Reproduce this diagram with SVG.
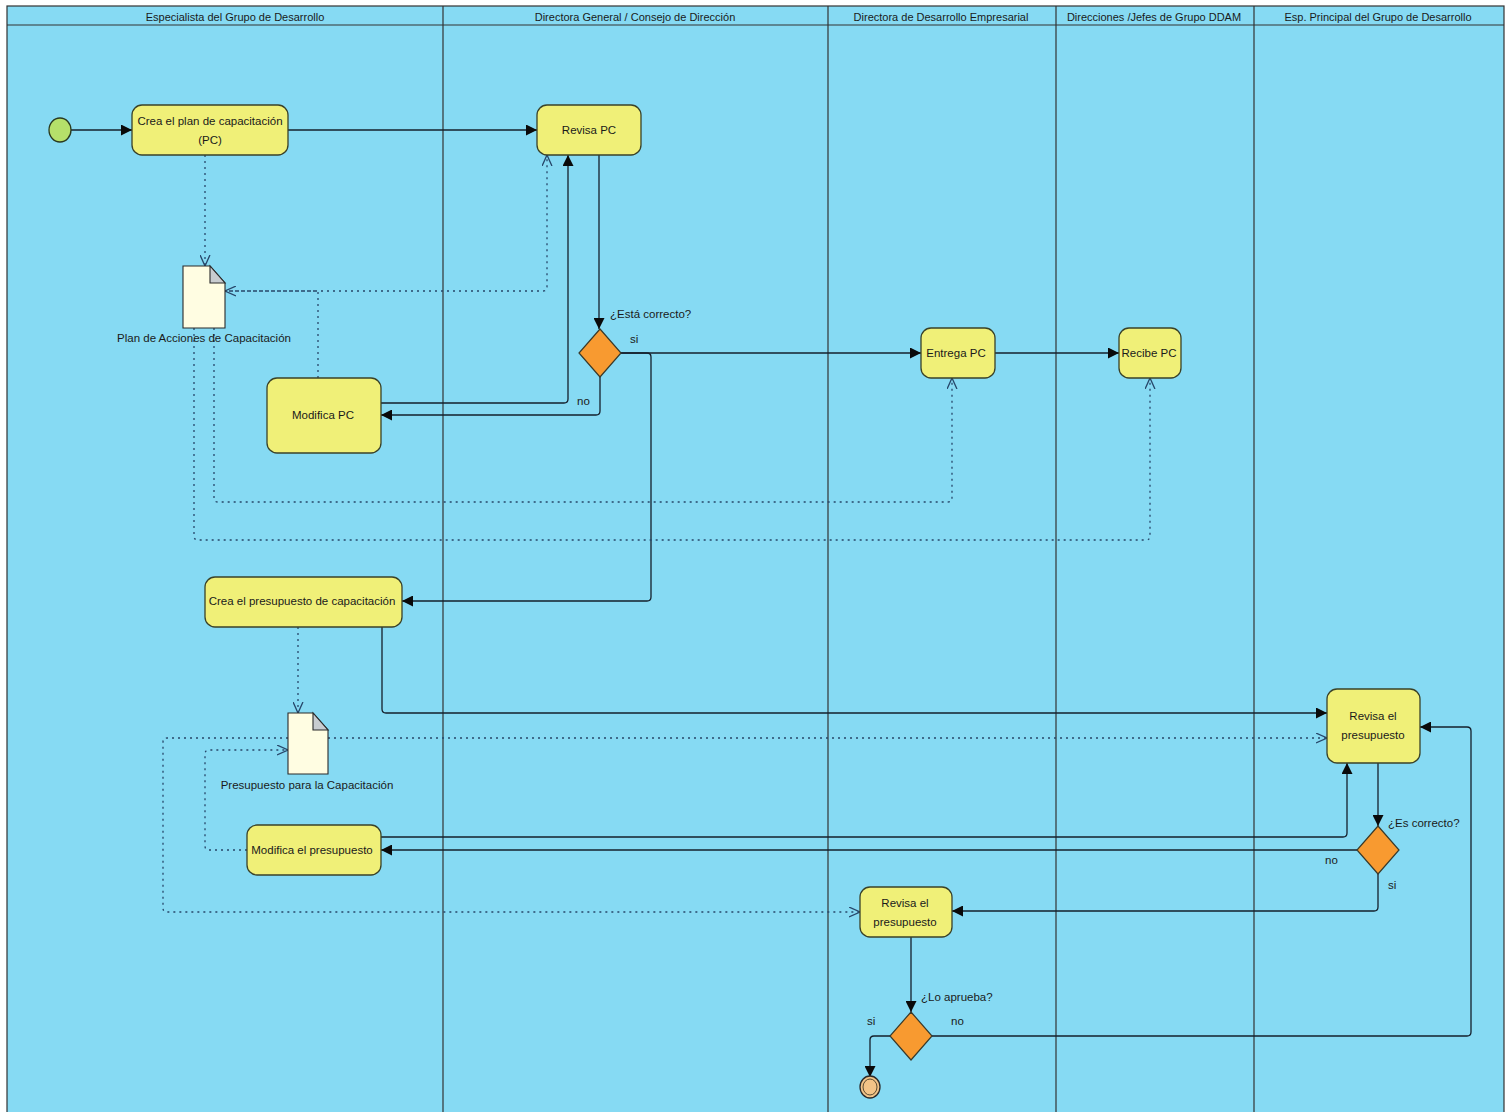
<svg xmlns="http://www.w3.org/2000/svg" width="1507" height="1112" viewBox="0 0 1507 1112">
<style>
text{font-family:"Liberation Sans",Arial,sans-serif;font-size:11.5px;fill:#1a1a1a}
.hd{font-size:11px;text-anchor:middle}
.lbl{text-anchor:middle}
.act{fill:#F0F078;stroke:#3a4228;stroke-width:1.3}
.dec{fill:#F89A30;stroke:#3a3a2a;stroke-width:1.2}
.doc{fill:#FFFDE2;stroke:#2a2a2a;stroke-width:1.1}
.fold{fill:#C8CCD0;stroke:#2a2a2a;stroke-width:1.1}
.lane{stroke:#333;stroke-width:1.2;fill:none}
.sol{fill:none;stroke:#15202c;stroke-width:1.3}
.dot{fill:none;stroke:#27476a;stroke-width:1.3;stroke-dasharray:2 4}
</style>
<defs>
<marker id="af" viewBox="0 0 10 10" refX="10" refY="5" markerWidth="11" markerHeight="11" orient="auto" markerUnits="userSpaceOnUse"><path d="M0,0 L10,5 L0,10 z" fill="#0a0a0a"/></marker>
<marker id="ao" viewBox="0 0 10 10" refX="10" refY="5" markerWidth="11" markerHeight="11" orient="auto" markerUnits="userSpaceOnUse"><path d="M0,0.5 L10,5 L0,9.5" fill="none" stroke="#27476a" stroke-width="1.2"/></marker>
</defs>
<rect x="0" y="0" width="1507" height="1112" fill="#ffffff"/>
<g id="pool">
<rect x="7" y="6" width="1497" height="1112" fill="#86DAF3" stroke="#333" stroke-width="1.2"/>
<line class="lane" x1="7" y1="25" x2="1504" y2="25"/>
<line class="lane" x1="443" y1="6" x2="443" y2="1112"/>
<line class="lane" x1="828" y1="6" x2="828" y2="1112"/>
<line class="lane" x1="1056" y1="6" x2="1056" y2="1112"/>
<line class="lane" x1="1254" y1="6" x2="1254" y2="1112"/>
<text class="hd" x="235" y="21">Especialista del Grupo de Desarrollo</text>
<text class="hd" x="635" y="21">Directora General / Consejo de Dirección</text>
<text class="hd" x="941" y="21">Directora de Desarrollo Empresarial</text>
<text class="hd" x="1154" y="21">Direcciones /Jefes de Grupo DDAM</text>
<text class="hd" x="1378" y="21">Esp. Principal del Grupo de Desarrollo</text>
</g>
<g id="connectors">
<path class="sol" d="M71,130 H132" marker-end="url(#af)"/>
<path class="sol" d="M288,130 H537" marker-end="url(#af)"/>
<path class="sol" d="M599,155 V329" marker-end="url(#af)"/>
<path class="sol" d="M600,377 V411 Q600,415 596,415 H381" marker-end="url(#af)"/>
<path class="sol" d="M381,403 H564 Q568,403 568,399 V155" marker-end="url(#af)"/>
<path class="sol" d="M621,353 H921" marker-end="url(#af)"/>
<path class="sol" d="M621,353 H647 Q651,353 651,357 V597 Q651,601 647,601 H402" marker-end="url(#af)"/>
<path class="sol" d="M995,353 H1119" marker-end="url(#af)"/>
<path class="sol" d="M382,627 V709 Q382,713 386,713 H1327" marker-end="url(#af)"/>
<path class="sol" d="M1378,763 V826" marker-end="url(#af)"/>
<path class="sol" d="M381,837 H1343 Q1347,837 1347,833 V763" marker-end="url(#af)"/>
<path class="sol" d="M1357,850 H381" marker-end="url(#af)"/>
<path class="sol" d="M1378,874 V907 Q1378,911 1374,911 H952" marker-end="url(#af)"/>
<path class="sol" d="M911,937 V1012" marker-end="url(#af)"/>
<path class="sol" d="M890,1036 H874 Q870,1036 870,1040 V1077" marker-end="url(#af)"/>
<path class="sol" d="M932,1036 H1467 Q1471,1036 1471,1032 V731 Q1471,727 1467,727 H1420" marker-end="url(#af)"/>
<path class="dot" d="M205,155 V266" marker-end="url(#ao)"/>
<path class="dot" d="M318,378 V291 H225" marker-end="url(#ao)"/>
<path class="dot" d="M225,291 H543 Q547,291 547,287 V155" marker-end="url(#ao)"/>
<path class="dot" d="M214,328 V498 Q214,502 218,502 H948 Q952,502 952,498 V378" marker-end="url(#ao)"/>
<path class="dot" d="M194,328 V536 Q194,540 198,540 H1146 Q1150,540 1150,536 V378" marker-end="url(#ao)"/>
<path class="dot" d="M298,627 V713" marker-end="url(#ao)"/>
<path class="dot" d="M328,738 H1327" marker-end="url(#ao)"/>
<path class="dot" d="M288,738 H167 Q163,738 163,742 V908 Q163,912 167,912 H860" marker-end="url(#ao)"/>
<path class="dot" d="M247,850 H209 Q205,850 205,846 V754 Q205,750 209,750 H288" marker-end="url(#ao)"/>
<text x="610" y="318">¿Está correcto?</text>
<text x="630" y="343">si</text>
<text x="577" y="405">no</text>
<text x="1388" y="827">¿Es correcto?</text>
<text x="1325" y="864">no</text>
<text x="1388" y="889">si</text>
<text x="921" y="1001">¿Lo aprueba?</text>
<text x="867" y="1025">si</text>
<text x="951" y="1025">no</text>
</g>
<g id="start"><ellipse cx="60" cy="130" rx="11" ry="12" fill="#B5E06A" stroke="#2a3a20" stroke-width="1.3"/></g>
<g id="crea-plan"><rect class="act" x="132" y="105" width="156" height="50" rx="10"/><text class="lbl" x="210" y="125">Crea el plan de capacitación</text><text class="lbl" x="210" y="144">(PC)</text></g>
<g id="revisa-pc"><rect class="act" x="537" y="105" width="104" height="50" rx="10"/><text class="lbl" x="589" y="134">Revisa PC</text></g>
<g id="doc-plan"><path class="doc" d="M183,266 H210 L225,283 V328 H183 Z"/><path class="fold" d="M210,266 V283 H225 Z"/><text class="lbl" x="204" y="342">Plan de Acciones de Capacitación</text></g>
<g id="modifica-pc"><rect class="act" x="267" y="378" width="114" height="75" rx="10"/><text class="lbl" x="323" y="419">Modifica PC</text></g>
<g id="dec-correcto"><path class="dec" d="M600,329 L621,353 L600,377 L579,353 Z"/></g>
<g id="entrega-pc"><rect class="act" x="921" y="328" width="74" height="50" rx="10"/><text class="lbl" x="956" y="357">Entrega PC</text></g>
<g id="recibe-pc"><rect class="act" x="1119" y="328" width="62" height="50" rx="10"/><text class="lbl" x="1149" y="357">Recibe PC</text></g>
<g id="crea-presupuesto"><rect class="act" x="205" y="577" width="197" height="50" rx="10"/><text class="lbl" x="302" y="605">Crea el presupuesto de capacitación</text></g>
<g id="doc-presupuesto"><path class="doc" d="M288,713 H313 L328,730 V774 H288 Z"/><path class="fold" d="M313,713 V730 H328 Z"/><text class="lbl" x="307" y="789">Presupuesto para la Capacitación</text></g>
<g id="revisa-presupuesto-esp"><rect class="act" x="1327" y="689" width="93" height="74" rx="10"/><text class="lbl" x="1373" y="720">Revisa el</text><text class="lbl" x="1373" y="739">presupuesto</text></g>
<g id="modifica-presupuesto"><rect class="act" x="247" y="825" width="134" height="50" rx="10"/><text class="lbl" x="312" y="854">Modifica el presupuesto</text></g>
<g id="dec-es-correcto"><path class="dec" d="M1378,826 L1399,850 L1378,874 L1357,850 Z"/></g>
<g id="revisa-presupuesto-dir"><rect class="act" x="860" y="887" width="92" height="50" rx="10"/><text class="lbl" x="905" y="907">Revisa el</text><text class="lbl" x="905" y="926">presupuesto</text></g>
<g id="dec-aprueba"><path class="dec" d="M911,1012 L932,1036 L911,1060 L890,1036 Z"/></g>
<g id="end"><ellipse cx="870" cy="1087" rx="10" ry="11" fill="#F3C487" stroke="#2a2a2a" stroke-width="1.3"/><ellipse cx="870" cy="1087" rx="7" ry="8" fill="#F3C487" stroke="#5a4a30" stroke-width="1"/></g>
</svg>
